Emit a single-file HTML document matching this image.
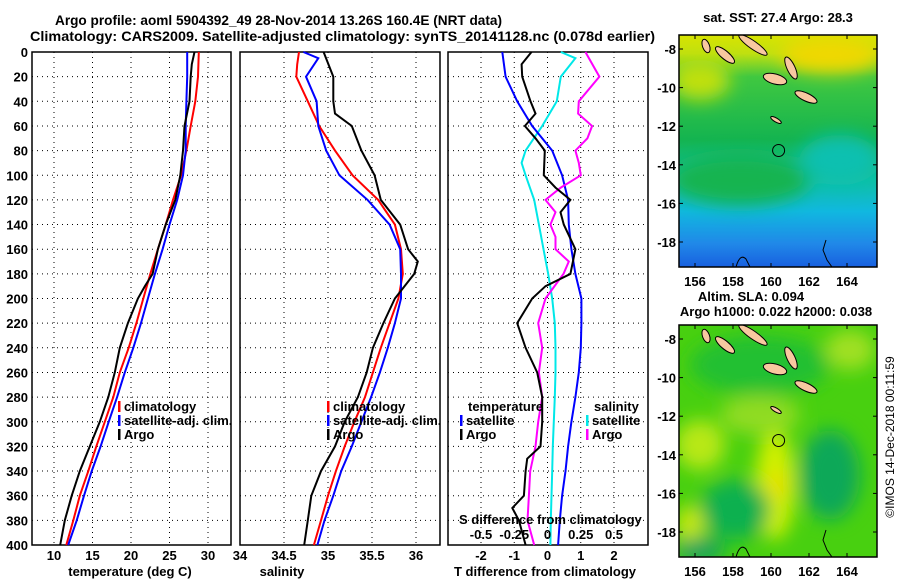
<!DOCTYPE html>
<html><head><meta charset="utf-8"><style>
html,body{margin:0;padding:0;background:#fff;}
svg{display:block;font-family:"Liberation Sans",sans-serif;font-weight:bold;}
</style></head><body>
<svg id="fig" width="900" height="580" viewBox="0 0 900 580">
<defs>
<linearGradient id="sstGrad" x1="0" y1="0" x2="0" y2="1">
<stop offset="0" stop-color="#d8e400"/><stop offset="0.08" stop-color="#c0e010"/><stop offset="0.18" stop-color="#40c840"/><stop offset="0.45" stop-color="#14b450"/><stop offset="0.62" stop-color="#10c0a0"/><stop offset="0.76" stop-color="#10b8e0"/><stop offset="0.9" stop-color="#2088e8"/><stop offset="1" stop-color="#1860e0"/>
</linearGradient>
<filter id="blur8" x="-50%" y="-50%" width="200%" height="200%"><feGaussianBlur stdDeviation="9"/></filter>
<clipPath id="clipTop"><rect x="679" y="35" width="198" height="232"/></clipPath>
<clipPath id="clipBot"><rect x="679" y="325" width="198" height="232"/></clipPath>
</defs>
<text x="55" y="25" font-size="14" textLength="447" lengthAdjust="spacingAndGlyphs">Argo profile: aoml 5904392_49 28-Nov-2014 13.26S 160.4E (NRT data)</text>
<text x="30" y="41" font-size="14" textLength="625" lengthAdjust="spacingAndGlyphs">Climatology: CARS2009. Satellite-adjusted climatology: synTS_20141128.nc (0.078d earlier)</text>
<g id="panels"></g>
<g id="maps"></g>
<text transform="translate(894,437) rotate(-90)" font-size="12" font-weight="normal" text-anchor="middle">©IMOS 14-Dec-2018 00:11:59</text>
</svg>
<script>
// ---- data (depth in dbar) ----
const depthClim = [0,20,40,60,80,100,120,140,160,180,200,220,240,260,280,300,320,340,360,380,400];
const tempClim = [28.8,28.7,28.35,27.75,27.2,26.5,25.45,24.5,23.5,22.5,21.6,20.7,19.7,18.55,17.7,16.6,15.5,14.45,13.35,12.5,11.6];
const tempSat  = [27.3,27.3,27.2,27.1,27.1,26.75,26.0,25.0,24.1,23.1,22.2,21.3,20.3,19.2,18.2,17.1,16.05,14.9,13.9,12.95,11.85];
const depthArgoT = [0,10,20,40,60,80,100,120,140,160,180,190,200,220,240,260,280,300,320,340,360,380,400];
const tempArgo = [28.25,27.9,27.75,27.6,26.95,26.75,26.4,25.75,24.5,23.5,22.8,21.8,20.9,19.6,18.55,17.9,17.05,15.95,14.65,13.35,12.3,11.4,10.8];
const depthSalClim = [0,10,20,40,60,80,100,120,140,160,180,200,220,240,260,280,300,320,340,360,380,400];
const salClim = [34.67,34.65,34.64,34.77,34.9,35.08,35.28,35.57,35.76,35.83,35.85,35.8,35.7,35.6,35.51,35.42,35.3,35.19,35.09,35.0,34.92,34.84];
const depthSalSat = [0,5,20,40,60,80,100,120,140,160,180,200,220,240,260,280,300,320,340,360,380,400];
const salSat = [34.72,34.89,34.75,34.87,34.89,34.98,35.13,35.45,35.7,35.82,35.83,35.83,35.76,35.68,35.59,35.49,35.38,35.27,35.15,35.06,34.96,34.88];
const depthSalArgo = [0,20,40,50,60,80,100,120,140,160,170,180,200,220,240,260,280,300,320,340,360,380,400];
const salArgo = [34.95,35.06,35.06,35.08,35.27,35.38,35.53,35.6,35.82,35.91,36.02,35.98,35.76,35.63,35.51,35.44,35.34,35.19,35.08,34.92,34.81,34.77,34.73];
const tDiffSat = [-1.36,-1.26,-0.91,-0.46,0.14,0.44,0.62,0.64,0.72,0.84,1.02,1.02,1.0,0.94,0.84,0.72,0.62,0.54,0.44,0.37,0.32];
const depthDiffArgo = [0,10,20,40,50,60,70,80,100,110,120,130,140,160,180,190,200,220,240,260,280,300,320,330,340,360,370,380,400];
const tDiffArgo = [-0.48,-0.78,-0.76,-0.51,-0.36,-0.68,-0.36,-0.08,-0.11,0.24,0.69,0.39,0.49,0.84,0.69,-0.06,-0.46,-0.91,-0.66,-0.31,-0.16,-0.16,-0.21,-0.61,-0.66,-0.71,-1.06,-0.86,-0.66];
const depthSDiffSat = [0,5,20,40,60,80,90,100,120,140,160,180,200,220,240,260,280,300,320,340,360,380,400];
const sDiffSat = [0.1,0.21,0.1,0.07,-0.04,-0.165,-0.195,-0.165,-0.1,-0.065,-0.03,0.005,0.035,0.055,0.06,0.06,0.055,0.047,0.04,0.035,0.03,0.025,0.022];
const depthSDiffArgo = [0,20,40,50,60,70,80,90,100,110,120,130,140,150,160,170,180,200,220,240,260,280,300,320,340,360,380,400];
const sDiffArgo = [0.285,0.39,0.235,0.23,0.335,0.3,0.21,0.235,0.25,0.1,-0.015,0.06,0.022,0.06,0.06,0.16,0.12,-0.015,-0.07,-0.04,-0.065,-0.04,-0.07,-0.09,-0.13,-0.14,-0.15,-0.1];
const depthTicks = [0,20,40,60,80,100,120,140,160,180,200,220,240,260,280,300,320,340,360,380,400];
const tempTicks = [10,15,20,25,30];
const salTicks = [34,34.5,35,35.5,36];
const tDiffTicks = [-2,-1,0,1,2];
const sDiffTicks = [-0.5,-0.25,0,0.25,0.5];
const sDiffTickLabels = ['-0.5','-0.25','0','0.25','0.5'];
const lonTicks = [156,158,160,162,164];
const latTicks = [-8,-10,-12,-14,-16,-18];
const argoLon = 160.4, argoLat = -13.26;

const NS='http://www.w3.org/2000/svg';
function mk(tag, attrs, parent, text){
  const e=document.createElementNS(NS,tag);
  for(const k in attrs) e.setAttribute(k,attrs[k]);
  if(text!==undefined) e.textContent=text;
  parent.appendChild(e); return e;
}
const yTop=52, yBot=545;
const yS = d => yTop + d*(yBot-yTop)/400;
function linScale(d0,d1,r0,r1){return v=> r0+(v-d0)*(r1-r0)/(d1-d0);}

const panels=document.getElementById('panels');
const P=[
 {name:'temperature-panel', x0:32, x1:231, sc:linScale(10,30,54,208), ticks:tempTicks, labels:tempTicks.map(String), title:'temperature (deg C)', tx:130},
 {name:'salinity-panel', x0:240, x1:440, sc:linScale(34,36,240,416), ticks:salTicks, labels:salTicks.map(String), title:'salinity', tx:282},
 {name:'difference-panel', x0:448, x1:648, sc:linScale(-2,2,481,614), ticks:tDiffTicks, labels:tDiffTicks.map(String), title:'T difference from climatology', tx:545}
];
P.forEach((p,i)=>{
  const g=mk('g',{},panels);
  
  
  depthTicks.forEach(d=>{
    const y=yS(d);
    const l=mk('line',{x1:p.x0,x2:p.x1,y1:y,y2:y,stroke:'#000','stroke-width':1,'stroke-dasharray':'1,4'},g);
    
    
    if(i===0){
      const t=mk('text',{x:28,y:y+5,'font-size':13,'text-anchor':'end'},g,String(d));
      
      
    }
  });
  p.ticks.forEach((v,k)=>{
    const x=p.sc(v);
    const l=mk('line',{x1:x,x2:x,y1:yTop,y2:yBot,stroke:'#000','stroke-width':1,'stroke-dasharray':'1,4'},g);
    
    
    const t=mk('text',{x:x,y:560,'font-size':13,'text-anchor':'middle'},g,p.labels[k]);
    
    
  });
  const r=mk('rect',{x:p.x0,y:yTop,width:p.x1-p.x0,height:yBot-yTop,fill:'none',stroke:'#000','stroke-width':1.5},g);
  
  
  const tt=mk('text',{x:p.tx,y:576,'font-size':13,'text-anchor':'middle'},g,p.title);
  
  
  p.g=g;
});
function line(p, vals, depths, color, name, sc){
  const s=sc||p.sc;
  const pts=vals.map((v,i)=>s(v).toFixed(1)+','+yS(depths[i]).toFixed(1)).join(' ');
  const e=mk('polyline',{points:pts,fill:'none',stroke:color,'stroke-width':2},p.g);
  
  
}
line(P[0],tempClim,depthClim,'#ff0000','temp-climatology-line');
line(P[0],tempSat,depthClim,'#0000ff','temp-satellite-line');
line(P[0],tempArgo,depthArgoT,'#000','temp-argo-line');
line(P[1],salClim,depthSalClim,'#ff0000','sal-climatology-line');
line(P[1],salSat,depthSalSat,'#0000ff','sal-satellite-line');
line(P[1],salArgo,depthSalArgo,'#000','sal-argo-line');
const sDiffSc=linScale(-0.5,0.5,481,614);
line(P[2],sDiffSat,depthSDiffSat,'#00e8e8','sdiff-satellite-line',sDiffSc);
line(P[2],tDiffSat,depthClim,'#0000ff','tdiff-satellite-line');
line(P[2],sDiffArgo,depthSDiffArgo,'#ff00ff','sdiff-argo-line',sDiffSc);
line(P[2],tDiffArgo,depthDiffArgo,'#000','tdiff-argo-line');

function legend(g,x,y,color,label){
  const b=mk('rect',{x:x,y:y-10,width:2.5,height:11,fill:color},g);
  
  
  const t=mk('text',{x:x+6,y:y,'font-size':13},g,label);
  
  
}
[[P[0],118],[P[1],327]].forEach(([p,x])=>{
  legend(p.g,x,411,'#ff0000','climatology');
  legend(p.g,x,425,'#0000ff','satellite-adj. clim.');
  legend(p.g,x,439,'#000','Argo');
});
{
  const g=P[2].g;
  let t=mk('text',{x:468,y:411,'font-size':13},g,'temperature');
   
  legend(g,460,425,'#0000ff','satellite');
  legend(g,460,439,'#000','Argo');
  t=mk('text',{x:594,y:411,'font-size':13},g,'salinity');
   
  legend(g,586,425,'#00e8e8','satellite');
  legend(g,586,439,'#ff00ff','Argo');
  t=mk('text',{x:459,y:524,'font-size':13},g,'S difference from climatology');
   
  sDiffTicks.forEach((v,k)=>{
    const tl=mk('text',{x:sDiffSc(v),y:539,'font-size':13,'text-anchor':'middle'},g,sDiffTickLabels[k]);
    
    
  });
}

// ---- maps ----
const maps=document.getElementById('maps');
const lonSc=linScale(156,164,695,847);
function drawMap(y0,name,clip,bgFn){
  const latSc=linScale(-8,-18,y0+14,y0+207);
  const g=mk('g',{},maps);
  
  
  const inner=mk('g',{'clip-path':'url(#'+clip+')'},g);
  bgFn(inner,y0);
  const isl=[[753,y0+10,17,4,35],[706,y0+11,3.5,7,-20],[725,y0+20,12,4,40],[791,y0+33,4,12,-25],[775,y0+44,12,5,15],[806,y0+62,12,4,25],[776,y0+85,6,2,30]];
  isl.forEach(a=>{
    const e=mk('ellipse',{cx:a[0],cy:a[1],rx:a[2],ry:a[3],transform:`rotate(${a[4]} ${a[0]} ${a[1]})`,fill:'#f8c8a0',stroke:'#000','stroke-width':1},inner);
    
    
  });
  let c=mk('path',{d:`M736 ${y0+232} Q740 ${y0+218} 746 ${y0+224} L750 ${y0+232}`,fill:'none',stroke:'#000','stroke-width':1},inner);
   
  c=mk('path',{d:`M826 ${y0+205} L823 ${y0+215} L827 ${y0+225} L832 ${y0+232}`,fill:'none',stroke:'#000','stroke-width':1},inner);
   
  const m=mk('circle',{cx:lonSc(argoLon),cy:latSc(argoLat),r:6,fill:'none',stroke:'#000','stroke-width':1},g);
  
  
  const f=mk('rect',{x:679,y:y0,width:198,height:232,fill:'none',stroke:'#000','stroke-width':1.5},g);
  
  
  lonTicks.forEach(v=>{
    const x=lonSc(v);
    mk('line',{x1:x,x2:x,y1:y0,y2:y0+4,stroke:'#000'},g);
    mk('line',{x1:x,x2:x,y1:y0+232,y2:y0+228,stroke:'#000'},g);
    const t=mk('text',{x:x,y:y0+251,'font-size':13,'text-anchor':'middle'},g,String(v));
    
    
  });
  latTicks.forEach(v=>{
    const y=latSc(v);
    mk('line',{x1:679,x2:683,y1:y,y2:y,stroke:'#000'},g);
    mk('line',{x1:877,x2:873,y1:y,y2:y,stroke:'#000'},g);
    const t=mk('text',{x:676,y:y+5,'font-size':13,'text-anchor':'end'},g,String(v));
    
    
  });
  return g;
}
drawMap(35,'sst-map','clipTop',(g,y0)=>{
  mk('rect',{x:679,y:y0,width:198,height:232,fill:'url(#sstGrad)'},g);
  const b=mk('g',{filter:'url(#blur8)'},g);
  mk('ellipse',{cx:830,cy:y0+20,rx:50,ry:18,fill:'#f0d800'},b);
  mk('ellipse',{cx:700,cy:y0+45,rx:30,ry:20,fill:'#c0e010'},b);
  mk('ellipse',{cx:740,cy:y0+145,rx:70,ry:25,fill:'#14b450'},b);
  mk('ellipse',{cx:840,cy:y0+125,rx:40,ry:25,fill:'#10c0b0'},b);
});
drawMap(325,'sla-map','clipBot',(g,y0)=>{
  mk('rect',{x:679,y:y0,width:198,height:232,fill:'#48d010'},g);
  const b=mk('g',{filter:'url(#blur8)'},g);
  mk('ellipse',{cx:760,cy:y0+40,rx:70,ry:30,fill:'#20c030'},b);
  mk('ellipse',{cx:850,cy:y0+25,rx:25,ry:20,fill:'#a0e020'},b);
  mk('ellipse',{cx:700,cy:y0+120,rx:25,ry:25,fill:'#b8e818'},b);
  mk('ellipse',{cx:775,cy:y0+160,rx:20,ry:55,fill:'#d0f000'},b);
  mk('ellipse',{cx:778,cy:y0+160,rx:10,ry:15,fill:'#e8e000'},b);
  mk('ellipse',{cx:735,cy:y0+185,rx:35,ry:30,fill:'#10b050'},b);
  mk('ellipse',{cx:830,cy:y0+150,rx:30,ry:45,fill:'#10a858'},b);
  mk('ellipse',{cx:690,cy:y0+200,rx:14,ry:20,fill:'#c8e810'},b);
  mk('ellipse',{cx:700,cy:y0+225,rx:25,ry:12,fill:'#10a060'},b);
  mk('ellipse',{cx:760,cy:y0+90,rx:40,ry:20,fill:'#90dc20'},b);
});
let t=mk('text',{x:778,y:22,'font-size':13,'text-anchor':'middle'},maps,'sat. SST: 27.4 Argo: 28.3');
 
t=mk('text',{x:751,y:301,'font-size':13,'text-anchor':'middle'},maps,'Altim. SLA: 0.094');
 
t=mk('text',{x:776,y:316,'font-size':13,'text-anchor':'middle'},maps,'Argo h1000: 0.022 h2000: 0.038');
 
</script>
</body></html>
